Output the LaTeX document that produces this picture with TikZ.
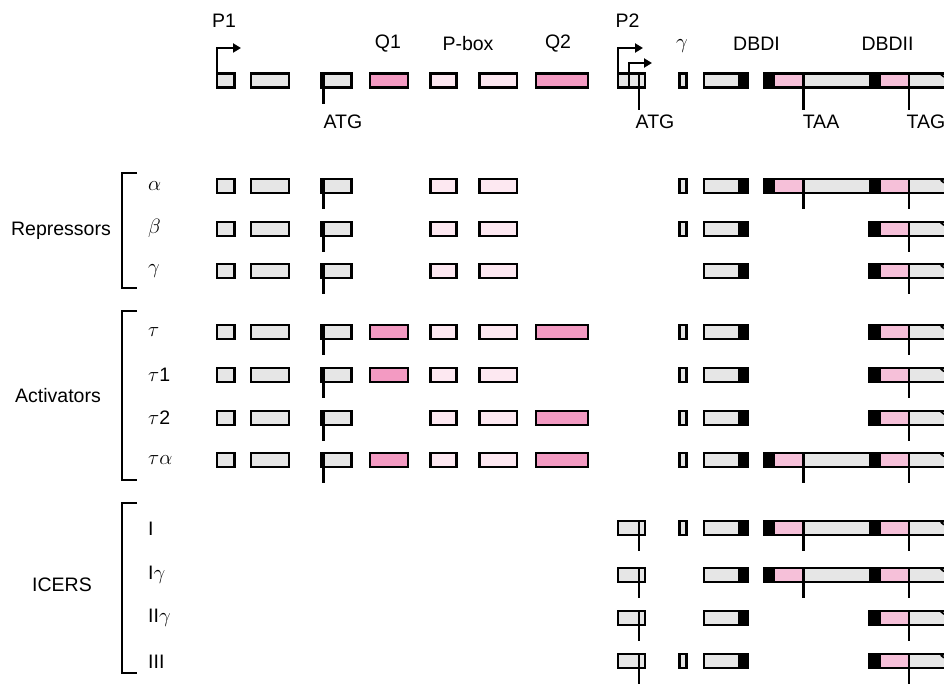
\documentclass[tikz,border=0pt]{standalone}
\usepackage{fontspec}
\setmainfont{Liberation Sans}
\usetikzlibrary{arrows.meta}
\definecolor{exgray}{HTML}{E6E6E6}
\definecolor{qpink}{HTML}{F39AC2}
\definecolor{lpink}{HTML}{FDE8F1}
\definecolor{dpink}{HTML}{F6C0D9}
\tikzset{
  exl/.style={line width=2.3pt, line join=miter},
  lab/.style={inner sep=0pt, font=\fontsize{19.5}{21}\selectfont},
  promarrow/.style={exl, -{Triangle[length=8pt,width=9pt]}},
}
\newcommand\exA[1]{\draw[exl,fill=exgray] (217,#1-7) rectangle (234.5,#1+7);}
\newcommand\exB[1]{\draw[exl,fill=exgray] (251,#1-7) rectangle (289,#1+7);}
\newcommand\exC[2]{\draw[exl,fill=exgray] (321,#1-7) rectangle (351.5,#1+7); \draw[exl] (323.5,#1-7) -- (323.5,#2);}
\newcommand\exD[1]{\draw[exl,fill=qpink] (370,#1-7) rectangle (408,#1+7);}
\newcommand\exE[1]{\draw[exl,fill=lpink] (430.5,#1-7) rectangle (456.5,#1+7);}
\newcommand\exF[1]{\draw[exl,fill=lpink] (479.5,#1-7) rectangle (517,#1+7);}
\newcommand\exG[1]{\draw[exl,fill=qpink] (536,#1-7) rectangle (588,#1+7);}
\newcommand\exGam[1]{\draw[exl,fill=exgray] (679.5,#1-7) rectangle (686.5,#1+7);}
\newcommand\exDBD[1]{\fill[exgray] (704,#1-7) rectangle (748,#1+7); \fill[black] (737.7,#1-7) rectangle (748,#1+7); \draw[exl] (704,#1-7) rectangle (748,#1+7);}
\newcommand\exTail[3]{% #1 y, #2 start x, #3 tick end
  \fill[exgray] (#2,#1-7) rectangle (944,#1+7);
  \fill[black] (869.3,#1-7) rectangle (880.7,#1+7);
  \fill[dpink] (880.7,#1-5.9) rectangle (909.3,#1+5.9);
  \draw[exl] (944,#1-7) -- (#2,#1-7) -- (#2,#1+7) -- (944,#1+7);
  \draw[line width=1.6pt] (944,#1-7) -- (941.5,#1-5.5) -- (944,#1-3.5);
  \draw[exl] (909.3,#1-7) -- (909.3,#3);}
\newcommand\exLong[2]{%
  \exTail{#1}{764.5}{#2}
  \fill[black] (763.4,#1-8.1) rectangle (775,#1+8.1);
  \fill[dpink] (775,#1-5.9) rectangle (803.5,#1+5.9);
  \draw[exl] (803.5,#1-7) -- (803.5,#2);}
\newcommand\exShort[2]{\exTail{#1}{869.3}{#2}}
\newcommand\exICER[1]{\draw[exl,fill=exgray] (618,#1-7) rectangle (645,#1+7); \draw[exl] (639.3,#1-7) -- (639.3,#1+23);}
\newcommand\leftAll[1]{\exA{#1}\exB{#1}\exC{#1}{#1+23}}
\begin{document}
\begin{tikzpicture}[x=1pt,y=-1pt]
\useasboundingbox (0,0) rectangle (944,684);
% ---------- header ----------
\def\hy{80.5}
\exA{\hy}\exB{\hy}\exC{\hy}{104}\exD{\hy}\exE{\hy}\exF{\hy}\exG{\hy}
\draw[exl,fill=exgray] (618,\hy-7) rectangle (645,\hy+7);
\draw[exl] (639.3,\hy-7) -- (639.3,110);
\exGam{\hy}\exDBD{\hy}\exLong{\hy}{110}
\coordinate (p1a) at (217,\hy-7);
\coordinate (p1b) at (217,48);
\coordinate (p1c) at (241,48);
\draw[promarrow] (p1a) -- (p1b) -- (p1c);
\coordinate (p2a) at (618,\hy-7);
\coordinate (p2b) at (618,48);
\coordinate (p2c) at (643,48);
\draw[promarrow] (p2a) -- (p2b) -- (p2c);
\coordinate (p3a) at (629,\hy+7);
\coordinate (p3b) at (629,63);
\coordinate (p3c) at (652,63);
\draw[promarrow] (p3a) -- (p3b) -- (p3c);
\node[lab] (tP1) at (224,21) {P1};
\node[lab] (tP2) at (627.5,21) {P2};
\node[lab] (tQ1) at (388,44) {Q1};
\node[lab] (tPbox) at (468,44) {P-box};
\node[lab] (tQ2) at (558,44) {Q2};
\node[lab] (tgam) at (682,46) {$\gamma$};
\node[lab] (tDBDI) at (756.5,44) {DBDI};
\node[lab] (tDBDII) at (887.5,44) {DBDII};
\node[lab] (tATG1) at (343,121.5) {ATG};
\node[lab] (tATG2) at (655,121.5) {ATG};
\node[lab] (tTAA) at (821,121.5) {TAA};
\node[lab] (tTAG) at (926,121.5) {TAG};
% ---------- repressors ----------
\def\ya{186.3}\def\yb{228.8}\def\yc{271.3}
\leftAll{\ya}\exE{\ya}\exF{\ya}\exGam{\ya}\exDBD{\ya}\exLong{\ya}{\ya+23}
\leftAll{\yb}\exE{\yb}\exF{\yb}\exGam{\yb}\exDBD{\yb}\exShort{\yb}{\yb+23}
\leftAll{\yc}\exE{\yc}\exF{\yc}\exDBD{\yc}\exShort{\yc}{\yc+23}
% ---------- activators ----------
\def\yd{332.3}\def\ye{375}\def\yf{417.7}\def\yg{460}
\leftAll{\yd}\exD{\yd}\exE{\yd}\exF{\yd}\exG{\yd}\exGam{\yd}\exDBD{\yd}\exShort{\yd}{\yd+23}
\leftAll{\ye}\exD{\ye}\exE{\ye}\exF{\ye}\exGam{\ye}\exDBD{\ye}\exShort{\ye}{\ye+23}
\leftAll{\yf}\exE{\yf}\exF{\yf}\exG{\yf}\exGam{\yf}\exDBD{\yf}\exShort{\yf}{\yf+23}
\leftAll{\yg}\exD{\yg}\exE{\yg}\exF{\yg}\exG{\yg}\exGam{\yg}\exDBD{\yg}\exLong{\yg}{\yg+23}
% ---------- ICERs ----------
\def\yh{528.3}\def\yi{575}\def\yj{617.7}\def\yk{661.3}
\exICER{\yh}\exGam{\yh}\exDBD{\yh}\exLong{\yh}{\yh+23}
\exICER{\yi}\exDBD{\yi}\exLong{\yi}{\yi+23}
\exICER{\yj}\exDBD{\yj}\exShort{\yj}{\yj+23}
\exICER{\yk}\exGam{\yk}\exDBD{\yk}\exShort{\yk}{\yk+23}
% ---------- brackets and labels ----------
\draw[exl] (137,173) -- (122,173) -- (122,288) -- (137,288);
\draw[exl] (137,311) -- (122,311) -- (122,480) -- (137,480);
\draw[exl] (137,503) -- (122,503) -- (122,673) -- (137,673);
\node[lab] (gRep) at (61,231) {Repressors};
\node[lab] (gAct) at (58,396) {Activators};
\node[lab] (gICER) at (62,585) {ICERS};
\node[lab,anchor=west] (la) at (148,\ya) {$\alpha$};
\node[lab,anchor=west] (lb) at (148,\yb) {$\beta$};
\node[lab,anchor=west] (lc) at (148,\yc) {$\gamma$};
\node[lab,anchor=west] (ld) at (148,\yd) {$\tau$};
\node[lab,anchor=west] (le) at (148,\ye) {$\tau$1};
\node[lab,anchor=west] (lf) at (148,\yf) {$\tau$2};
\node[lab,anchor=west] (lg) at (148,\yg) {$\tau\alpha$};
\node[lab,anchor=west] (lh) at (148,\yh) {I};
\node[lab,anchor=west] (li) at (148,\yi) {I$\gamma$};
\node[lab,anchor=west] (lj) at (148,\yj) {II$\gamma$};
\node[lab,anchor=west] (lk) at (148,\yk) {III};
\end{tikzpicture}
\end{document}
